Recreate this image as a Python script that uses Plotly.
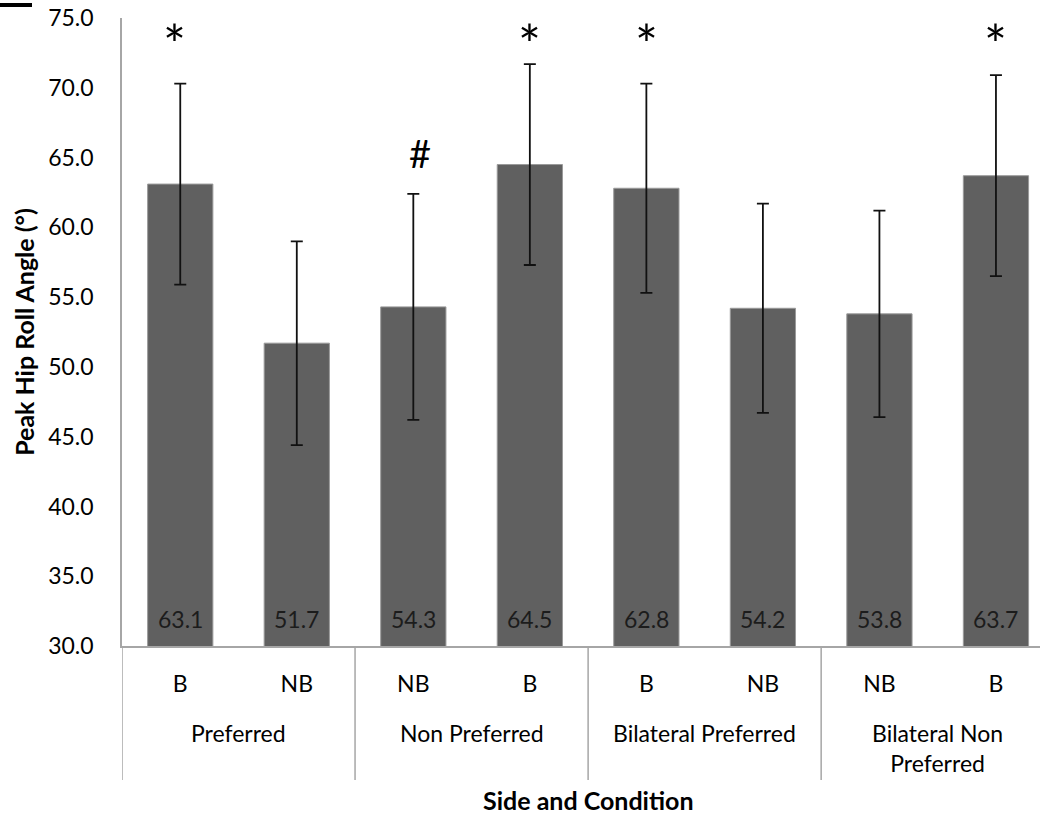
import plotly.graph_objects as go

# ---- data ----
groups = ["Preferred", "Preferred", "Non Preferred", "Non Preferred",
          "Bilateral Preferred", "Bilateral Preferred",
          "Bilateral Non<br>Preferred", "Bilateral Non<br>Preferred"]
conditions = ["B", "NB", "NB", "B", "B", "NB", "NB", "B"]
means = [63.1, 51.7, 54.3, 64.5, 62.8, 54.2, 53.8, 63.7]
sds = [7.2, 7.3, 8.1, 7.2, 7.5, 7.5, 7.4, 7.2]
sig_marks = ["*", "", "#", "*", "*", "", "", "*"]
y_ticks = [30, 35, 40, 45, 50, 55, 60, 65, 70, 75]

FONT = "Lato"
BAR = "#606060"
AXIS = "#a6a6a6"

# plot-area geometry in pixels (for paper-referenced label rows)
PLOT_TOP, PLOT_BOTTOM = 18, 646
PH = PLOT_BOTTOM - PLOT_TOP


def py(pix):
    """pixel row -> paper y fraction"""
    return (PLOT_BOTTOM - pix) / PH


xs = list(range(len(conditions)))

fig = go.Figure()
fig.add_trace(go.Bar(
    x=xs,
    y=means,
    width=0.56,
    marker=dict(color=BAR, line=dict(color="#9a9a9a", width=1)),
    error_y=dict(type="data", array=sds, visible=True,
                 color="#111111", thickness=1.8, width=6),
    showlegend=False,
))

annotations = []
for i, (m, s) in enumerate(zip(means, sds)):
    annotations.append(dict(
        x=i, y=30, xref="x", yref="y", text=f"{m:.1f}",
        showarrow=False, yanchor="bottom", yshift=11,
        font=dict(family=FONT, size=23, color="#1c1c1c")))
    mark = sig_marks[i]
    if mark == "*":
        annotations.append(dict(
            x=i, y=73.2, xref="x", yref="y", text=mark, showarrow=False,
            yanchor="middle", xshift=-6 if i == 0 else 0,
            font=dict(family=FONT, size=54, color="#000000")))
    elif mark == "#":
        annotations.append(dict(
            x=i, y=m + s + 2.9, xref="x", yref="y", text=mark, showarrow=False,
            xshift=7, yanchor="middle",
            font=dict(family=FONT, size=38, color="#000000")))

# group labels (second level of category axis) and dividers
shapes = []
bounds = [-0.5]
start = 0
for i in range(1, len(groups) + 1):
    if i == len(groups) or groups[i] != groups[start]:
        center = (start + i - 1) / 2
        annotations.append(dict(
            x=center, y=py(717), xref="x", yref="paper", text=groups[start],
            showarrow=False, yanchor="top",
            font=dict(family=FONT, size=23, color="#000000")))
        bounds.append(i - 0.5)
        start = i
for b in bounds:
    shapes.append(dict(type="line", xref="x", yref="paper",
                       x0=b, x1=b, y0=0, y1=py(780),
                       line=dict(color=AXIS, width=1.5)))

# x axis title (centered on the full category span)
annotations.append(dict(
    x=(len(conditions) - 1) / 2, y=py(800), xref="x", yref="paper",
    text="<b>Side and Condition</b>", showarrow=False, yanchor="middle",
    borderpad=0,
    font=dict(family=FONT, size=25, color="#000000")))

# small black mark at top-left of the original image
shapes.append(dict(type="line", xref="paper", yref="paper",
                   x0=-122 / 918, x1=(-122 + 32) / 918, y0=py(5), y1=py(5),
                   line=dict(color="#000000", width=4)))

fig.update_layout(
    width=1040, height=815,
    margin=dict(l=122, r=0, t=PLOT_TOP, b=815 - PLOT_BOTTOM, pad=0),
    paper_bgcolor="white", plot_bgcolor="white",
    font=dict(family=FONT, size=23, color="#000000"),
    annotations=annotations,
    shapes=shapes,
)

fig.update_xaxes(
    range=[-0.5, 7.378],
    tickvals=xs, ticktext=conditions,
    showline=True, linecolor=AXIS, linewidth=1.5,
    ticks="", showgrid=False, zeroline=False,
    ticklabelstandoff=17,
    tickfont=dict(family=FONT, size=23, color="#000000"),
)
fig.update_yaxes(
    range=[30, 75], tickvals=y_ticks, tickformat=".1f",
    showline=True, linecolor=AXIS, linewidth=1.5,
    showgrid=False, zeroline=False, ticks="",
    ticklabelstandoff=22,
    tickfont=dict(family=FONT, size=23, color="#000000"),
    title=dict(text="<b>Peak Hip Roll Angle (°)</b>", standoff=6,
               font=dict(family=FONT, size=25, color="#000000")),
)

fig.write_html("out.html")
